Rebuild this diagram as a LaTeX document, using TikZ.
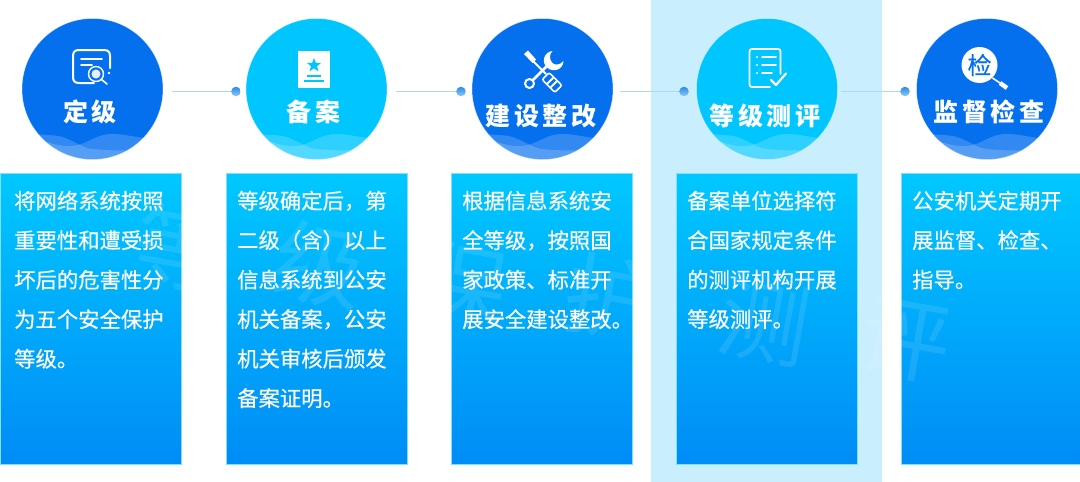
\documentclass[tikz,border=0pt]{standalone}
\usepackage{fontspec}
\setmainfont{Noto Sans CJK SC}
\newfontfamily\bodyfont[FakeBold=0.35]{Noto Sans CJK SC}
\usetikzlibrary{calc}
\definecolor{deepblue}{HTML}{0570EE}
\definecolor{skyblue}{HTML}{00C6FF}
\definecolor{band}{HTML}{C9EEFD}
\definecolor{paneltop}{HTML}{00C8FF}
\definecolor{panelbot}{HTML}{008CF6}
\definecolor{linkblue}{HTML}{A8DAFA}
\definecolor{dotblue}{HTML}{2D8AE6}
\definecolor{dotlight}{HTML}{8CCBF8}
\definecolor{paneledge}{HTML}{80E0FF}
\tikzset{
  x=1pt,y=-1pt,
  stage/.style={circle,inner sep=0,minimum size=141pt,draw=white,draw opacity=.5,line width=.5pt},
  panel/.style={rectangle,inner sep=0,anchor=north west,minimum height=291pt,top color=paneltop,bottom color=panelbot,draw=paneledge,line width=.6pt},
  body/.style={inner sep=0,anchor=north west,align=left,text=white,font=\fontsize{21.35}{39.5}\selectfont\bodyfont},
  title/.style={inner sep=0,text=white,font=\fontsize{25}{28}\selectfont\bfseries},
  dotnode/.style={circle,inner sep=0,minimum size=9.5pt,top color=dotblue,bottom color=dotlight},
  link/.style={draw=linkblue,line width=1.4pt,shorten <=9pt},
  water/.style={inner sep=0,text=white,text opacity=.1,font=\fontsize{90}{96}\selectfont,rotate=-10},
  wave/.style={fill=white,fill opacity=.18,draw=none},
  iconline/.style={draw=white,line width=2pt,line cap=round,line join=round}
}
\newcommand{\tsp}{\hspace{3.5pt}}
\begin{document}
\begin{tikzpicture}
\useasboundingbox (0,0) rectangle (1080,482);
\fill[white] (0,0) rectangle (1080,482);
\node[rectangle,inner sep=0,anchor=north west,minimum width=231pt,minimum height=482pt,fill=band] (hl) at (651,0) {};

% panels
\node[panel,minimum width=181pt] (p1) at (0,173) {};
\node[panel,minimum width=181pt] (p2) at (226,173) {};
\node[panel,minimum width=181pt] (p3) at (451,173) {};
\node[panel,minimum width=181pt] (p4) at (676,173) {};
\node[panel,minimum width=179pt] (p5) at (901,173) {};

% watermark
\node[water] (w1) at (180,248) {等};
\node[water] (w2) at (320,265) {级};
\node[water] (w3) at (463,285) {保};
\node[water] (w4) at (610,298) {护};
\node[water] (w5) at (765,322) {测};
\node[water] (w6) at (905,340) {评};

% circles
\node[stage,fill=deepblue] (c1) at (92.5,89) {};
\node[stage,fill=skyblue] (c2) at (316.5,89) {};
\node[stage,fill=deepblue] (c3) at (542.5,89) {};
\node[stage,fill=skyblue] (c4) at (767,89) {};
\node[stage,fill=deepblue] (c5) at (987,89) {};

% waves
\foreach \n in {c1,c2,c3,c4,c5}{
  \begin{scope}
    \clip (\n.center) circle (70.5pt);
    \begin{scope}[shift={(\n.center)}]
      \fill[wave] (-72,43) .. controls (-50,47) and (-40,45) .. (-30,48)
        .. controls (-18,52) and (-8,60) .. (0,60)
        .. controls (20,62) and (40,62) .. (72,60) -- (72,75) -- (-72,75) -- cycle;
      \fill[wave] (-72,46) .. controls (-50,50) and (-38,58) .. (-21,57)
        .. controls (-5,56) and (2,45) .. (20,45)
        .. controls (32,45) and (40,48) .. (72,52) -- (72,75) -- (-72,75) -- cycle;
    \end{scope}
  \end{scope}
}

% dots and links
\node[dotnode] (d1) at (236,91.5) {};
\node[dotnode] (d2) at (461,91.5) {};
\node[dotnode] (d3) at (684,91.5) {};
\node[dotnode] (d4) at (905,91.5) {};
\draw[link] (c1.east |- d1) -- (d1.west);
\draw[link] (c2.east |- d2) -- (d2.west);
\draw[link,shorten <=7pt] (c3.east |- d3) -- (d3.west);
\draw[link,shorten <=3.5pt] (c4.east |- d4) -- (d4.west);

% titles
\node[title] (t1) at (90,112) {定\tsp 级};
\node[title] (t2) at (313.5,112) {备\tsp 案};
\node[title] (t3) at (541,116) {建\tsp 设\tsp 整\tsp 改};
\node[title] (t4) at (765,116) {等\tsp 级\tsp 测\tsp 评};
\node[title] (t5) at (989,112) {监\tsp 督\tsp 检\tsp 查};

% body text
\node[body] (b1) at (14,190.5) {将网络系统按照\\重要性和遭受损\\坏后的危害性分\\为五个安全保护\\等级。};
\node[body] (b2) at (237,190.5) {等级确定后，第\\二级（含）以上\\信息系统到公安\\机关备案，公安\\机关审核后颁发\\备案证明。};
\node[body] (b3) at (462,190.5) {根据信息系统安\\全等级，按照国\\家政策、标准开\\展安全建设整改。};
\node[body] (b4) at (687,190.5) {备案单位选择符\\合国家规定条件\\的测评机构开展\\等级测评。};
\node[body] (b5) at (912,190.5) {公安机关定期开\\展监督、检查、\\指导。};

% icon 1: document with magnifier
\draw[iconline] (94,83) -- (79,83) .. controls (75,83) and (73,81) .. (73,77)
  -- (73,56) .. controls (73,52) and (75,50) .. (79,50)
  -- (104,50) .. controls (108,50) and (110,52) .. (110,56) -- (110,68);
\draw[iconline,line width=1.6pt] (81,59) -- (102,59);
\draw[iconline,line width=1.6pt] (81,65) -- (92,65);
\draw[white,line width=1.4pt] (96,74) circle (7.5pt);
\fill[white,opacity=.9] (96,74) circle (4.5pt);
\draw[iconline,line width=1.6pt] (101.5,79.5) -- (107,84);
\fill[white] (109,73) circle (1.3pt);

% icon 2: certificate
\fill[white] (298,51) rectangle (330,88);
\fill[skyblue] (314,58)
  -- ++(1.8,4.8) -- ++(5.2,.2) -- ++(-4,3.2) -- ++(1.4,5) -- ++(-4.4,-2.8)
  -- ++(-4.4,2.8) -- ++(1.4,-5) -- ++(-4,-3.2) -- ++(5.2,-.2) -- cycle;
\draw[skyblue,line width=1.4pt] (307,76) -- (321,76);
\draw[skyblue,line width=1.4pt] (304,81) -- (324,81);

% icon 3: wrench and screwdriver
\fill[white] (524,54) -- (528,50.5) -- (536,59.5) -- (532.5,63) -- cycle;
\draw[white,line width=1.8pt] (533,61) -- (546,74);
\draw[white,line width=2pt] (529.5,83.5) circle (4.5pt);
\draw[white,line width=2.6pt] (533,80) -- (548,65);
\fill[white] (552.5,51) .. controls (544,52) and (541,62) .. (547,67.5)
  .. controls (553,73) and (563,70) .. (563.5,61)
  .. controls (560,65.5) and (554,65.5) .. (552,62.5)
  .. controls (549,58.5) and (549.5,54) .. (552.5,51) -- cycle;
\begin{scope}[shift={(552,82.5)},rotate=-45]
  \draw[white,line width=1.6pt,rounded corners=2pt] (-9,-5) rectangle (9,5);
  \fill[white] (-3.5,-5) rectangle (-1.5,5);
  \fill[white] (1.5,-5) rectangle (3.5,5);
\end{scope}

% icon 4: checklist
\draw[iconline,line width=1.8pt] (770,87) -- (752,87) .. controls (750,87) and (749.5,86) .. (749.5,84)
  -- (749.5,52) .. controls (749.5,50) and (750,49) .. (752,49)
  -- (778,49) .. controls (780,49) and (780.5,50) .. (780.5,52) -- (780.5,74);
\fill[white] (757,57) circle (1.1pt);
\fill[white] (757,65) circle (1.1pt);
\fill[white] (757,73) circle (1.1pt);
\draw[iconline,line width=1.7pt] (762,57) -- (776,57);
\draw[iconline,line width=1.7pt] (762,65) -- (776,65);
\draw[iconline,line width=1.7pt] (762,73) -- (772,73);
\draw[iconline,line width=2.2pt] (771,80) -- (776,85) -- (786,73.5);

% icon 5: magnifier
\node[circle,fill=white,inner sep=0,minimum size=36pt,text=deepblue,font=\fontsize{24}{26}\selectfont\bodyfont] (m5) at (979.5,65) {检};
\draw[white,line width=4.4pt] (1000,83) -- (1007,88);
\draw[white,line width=1.6pt] (m5) ++(13,13) -- (1000,83);
\end{tikzpicture}
\end{document}
